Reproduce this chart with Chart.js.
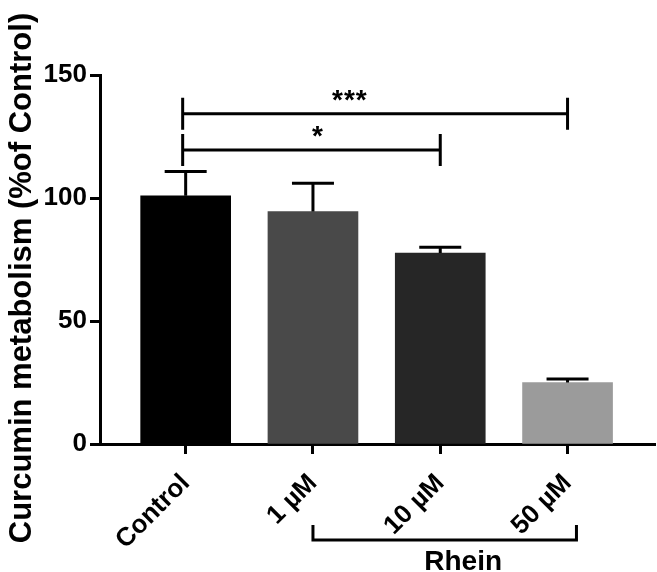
<!DOCTYPE html>
<html>
<head>
<meta charset="utf-8">
<script src="https://cdn.jsdelivr.net/npm/chart.js@4.4.1/dist/chart.umd.min.js"></script>
<style>
html,body{margin:0;padding:0;background:#fff;}
#wrap{width:657px;height:572px;}
</style>
</head>
<body>
<div id="wrap"><canvas id="chart" width="657" height="572"></canvas></div>
<script>
// values (mean with upward SD)
const categories = ['Control', '1 µM', '10 µM', '50 µM'];
const means = [100.9, 94.5, 77.6, 25.0];
const sdUp = [9.9, 11.5, 2.4, 1.4];
const barColors = ['#000000', '#494949', '#262626', '#9b9b9b'];

// significance brackets (category index from/to, height in % units)
const sigFrom = [0, 0];
const sigTo = [2, 3];
const sigY = [119.5, 134.2];
const sigText = ['*', '***'];
const sigTextX = [1.04, 1.29];

// group bracket under the rhein doses
const groupFrom = 1, groupTo = 3.07, groupLabel = 'Rhein', groupLabelX = 2.18;
const yTitle = 'Curcumin metabolism (%of Control)';

const FONT = 'Arial, "Liberation Sans", Helvetica, sans-serif';

// error bars, brackets, axis title
const extras = {
  id: 'extras',
  afterDatasetsDraw(chart){
    const ctx = chart.ctx, x = chart.scales.x, y = chart.scales.y;
    ctx.save();
    ctx.strokeStyle = '#000'; ctx.fillStyle = '#000'; ctx.lineWidth = 3;
    means.forEach((m, i) => {
      const px = x.getPixelForValue(i);
      const top = y.getPixelForValue(m + sdUp[i]);
      ctx.beginPath();
      ctx.moveTo(px, y.getPixelForValue(m)); ctx.lineTo(px, top);
      ctx.moveTo(px - 21, top); ctx.lineTo(px + 21, top);
      ctx.stroke();
    });
    ctx.font = 'bold 28px ' + FONT;
    ctx.letterSpacing = '1px';
    ctx.textAlign = 'center'; ctx.textBaseline = 'alphabetic';
    for(let i=0;i<sigY.length;i++){
      const x1 = x.getPixelForValue(sigFrom[i]) - 3, x2 = x.getPixelForValue(sigTo[i]), py = y.getPixelForValue(sigY[i]);
      ctx.beginPath();
      ctx.moveTo(x1, py - 16); ctx.lineTo(x1, py + 16);
      ctx.moveTo(x1, py); ctx.lineTo(x2, py);
      ctx.moveTo(x2, py - 16); ctx.lineTo(x2, py + 16);
      ctx.stroke();
      ctx.fillText(sigText[i], x.getPixelForValue(sigTextX[i]), py - 5);
    }
    ctx.restore();
  },
  afterDraw(chart){
    const ctx = chart.ctx, x = chart.scales.x;
    ctx.save();
    ctx.strokeStyle = '#000'; ctx.fillStyle = '#000'; ctx.lineWidth = 3;
    const g1 = x.getPixelForValue(groupFrom), g2 = x.getPixelForValue(groupTo);
    ctx.beginPath();
    ctx.moveTo(g1, 525); ctx.lineTo(g1, 540); ctx.lineTo(g2, 540); ctx.lineTo(g2, 525);
    ctx.stroke();
    ctx.font = 'bold 28px ' + FONT;
    ctx.textAlign = 'center'; ctx.textBaseline = 'alphabetic';
    ctx.fillText(groupLabel, x.getPixelForValue(groupLabelX), 570);
    // y title
    ctx.translate(31, 278); ctx.rotate(-Math.PI/2);
    ctx.font = 'bold 31px ' + FONT;
    ctx.fillText(yTitle, 0, 0);
    ctx.restore();
  }
};

const tickFont = { family: FONT, size: 26, weight: 'bold' };

new Chart(document.getElementById('chart'), {
  type: 'bar',
  data: { datasets: [{
    data: means.map((v, i) => ({ x: i, y: v })),
    backgroundColor: barColors, borderWidth: 0, barThickness: 90
  }] },
  options: {
    responsive: false, animation: false, events: [],
    layout: { padding: { top: 75, right: 2, left: 0, bottom: 0 } },
    plugins: { legend: { display: false }, tooltip: { enabled: false } },
    scales: {
      x: {
        type: 'linear', min: -0.673, max: 3.687, offset: false,
        grid: { offset: false, drawOnChartArea: false, drawTicks: true, tickLength: 10, tickWidth: 3, tickColor: '#000' },
        border: { display: true, color: '#000', width: 3 },
        ticks: { stepSize: 1, includeBounds: false, autoSkip: false, minRotation: 45, maxRotation: 45, padding: 14, color: '#000', font: tickFont,
          callback: v => categories[v] ?? '' },
        afterFit: s => { s.height = 128; }
      },
      y: {
        min: 0, max: 150,
        grid: { drawOnChartArea: false, drawTicks: true, tickLength: 10, tickWidth: 3, tickColor: '#000' },
        border: { display: true, color: '#000', width: 3 },
        ticks: { stepSize: 50, padding: 3, color: '#000', font: tickFont },
        afterFit: s => { s.width = 100; }
      }
    }
  },
  plugins: [extras]
});
</script>
</body>
</html>
